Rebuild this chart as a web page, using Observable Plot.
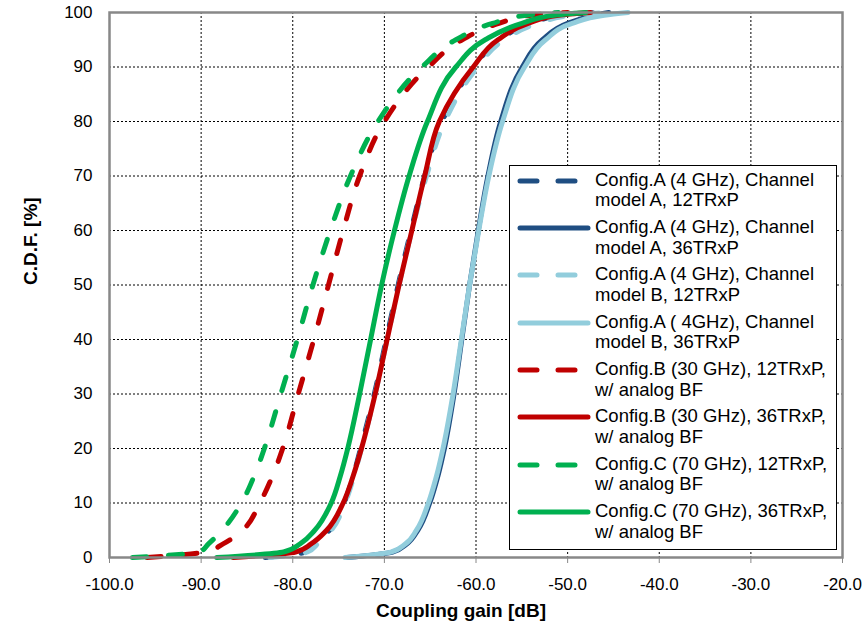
<!DOCTYPE html>
<html>
<head>
<meta charset="utf-8">
<script src="https://cdn.jsdelivr.net/npm/d3@7"></script>
<script src="https://cdn.jsdelivr.net/npm/@observablehq/plot@0.6"></script>
<style>
  html, body { margin: 0; padding: 0; background: #fff; }
  #wrap { position: relative; width: 863px; height: 630px; font-family: "Liberation Sans", Arial, sans-serif; }
  #legend { position: absolute; left: 509px; top: 165px; width: 326px; height: 383px; border: 1px solid #000; background: #fff; }
  .entry { position: absolute; left: 0; width: 326px; height: 42px; }
  .entry svg { position: absolute; left: 0; top: 0; }
  .entry .lab { position: absolute; left: 85px; top: 0; font-size: 18.5px; line-height: 20.7px; color: #000; white-space: nowrap; }
</style>
</head>
<body>
<div id="wrap"></div>
<script>
// CDF levels (%) shared by all series
const levels = [0, 1, 2.5, 5, 10, 15, 20, 30, 40, 50, 60, 70, 80, 90, 95, 98, 99.5, 100];

// Coupling gain [dB] at each CDF level, per series
const aModelA12 = [-83.0, -78.6, -77.5, -76.0, -74.4, -73.4, -72.6, -71.1, -69.8, -68.5, -67.1, -65.6, -63.7, -60.2, -57.4, -54.0, -50.5, -47.0];
const aModelA36 = [-74.1, -69.1, -67.55, -66.35, -65.05, -64.15, -63.45, -62.4, -61.55, -60.7, -59.75, -58.7, -57.3, -54.95, -52.75, -50.0, -47.0, -45.5];
const aModelB12 = [-82.5, -78.4, -77.3, -75.8, -74.3, -73.3, -72.5, -71.0, -69.7, -68.4, -67.0, -65.4, -63.4, -59.8, -56.9, -53.2, -49.5, -46.0];
const aModelB36 = [-74.3, -69.3, -67.7, -66.5, -65.2, -64.3, -63.6, -62.5, -61.6, -60.7, -59.7, -58.6, -57.1, -54.7, -52.4, -49.5, -46.0, -43.4];
const b12 = [-95.9, -89.6, -87.6, -85.5, -83.6, -82.2, -81.1, -79.4, -77.7, -76.1, -74.5, -72.7, -70.0, -65.2, -61.5, -57.5, -54.0, -50.0];
const b36 = [-86.5, -79.7, -78.0, -76.3, -74.5, -73.4, -72.5, -71.0, -69.7, -68.4, -67.0, -65.6, -64.0, -60.3, -57.6, -54.3, -51.0, -47.5];
const c12 = [-97.5, -90.2, -89.2, -87.7, -85.6, -84.2, -83.1, -81.3, -79.5, -77.8, -75.9, -73.7, -70.7, -65.9, -62.2, -58.2, -54.5, -51.0];
const c36 = [-88.3, -81.0, -79.2, -77.6, -75.8, -74.8, -74.0, -72.7, -71.5, -70.3, -68.9, -67.3, -65.3, -62.2, -59.0, -55.0, -51.5, -48.0];

const seriesNames = [
  ["Config.A (4 GHz), Channel", "model A, 12TRxP"],
  ["Config.A (4 GHz), Channel", "model A, 36TRxP"],
  ["Config.A (4 GHz), Channel", "model B, 12TRxP"],
  ["Config.A ( 4GHz), Channel", "model B, 36TRxP"],
  ["Config.B (30 GHz), 12TRxP,", "w/ analog BF"],
  ["Config.B (30 GHz), 36TRxP,", "w/ analog BF"],
  ["Config.C (70 GHz), 12TRxP,", "w/ analog BF"],
  ["Config.C (70 GHz), 36TRxP,", "w/ analog BF"]
];
const seriesValues = [aModelA12, aModelA36, aModelB12, aModelB36, b12, b36, c12, c36];
const seriesColors = ["#1F4E82", "#1F4E82", "#92CDDC", "#92CDDC", "#C00000", "#C00000", "#00B050", "#00B050"];
const seriesDashed = [true, false, true, false, true, false, true, false];

const xTicks = [-100, -90, -80, -70, -60, -50, -40, -30, -20];
const yTicks = [0, 10, 20, 30, 40, 50, 60, 70, 80, 90, 100];
const xGrid = [-90, -80, -70, -60, -50, -40, -30];
const yGrid = [10, 20, 30, 40, 50, 60, 70, 80, 90];

const DASH = "14,22";

const lineMarks = seriesValues.map((vals, i) =>
  Plot.line(levels.map((p, j) => ({x: vals[j], y: p})), {
    x: "x", y: "y",
    stroke: seriesColors[i],
    strokeWidth: 5,
    strokeLinecap: "round",
    strokeLinejoin: "round",
    strokeDasharray: seriesDashed[i] ? DASH : null,
    curve: "monotone-y"
  })
);

const chart = Plot.plot({
  width: 863,
  height: 630,
  marginLeft: 109,
  marginRight: 21,
  marginTop: 12,
  marginBottom: 73,
  style: {fontFamily: "'Liberation Sans', Arial, sans-serif", fontSize: "17px", background: "#fff", color: "#000"},
  x: {domain: [-100, -20]},
  y: {domain: [0, 100]},
  marks: [
    Plot.gridX(xGrid, {stroke: "#000", strokeOpacity: 1, strokeWidth: 1, strokeDasharray: "2,2"}),
    Plot.gridY(yGrid, {stroke: "#000", strokeOpacity: 1, strokeWidth: 1, strokeDasharray: "2,2"}),
    Plot.axisX(xTicks, {tickFormat: d => d.toFixed(1), tickSize: 6, tickPadding: 14, stroke: "#888", fill: "#000", label: null}),
    Plot.axisY(yTicks, {tickSize: 0, tickPadding: 17, fill: "#000", label: null}),
    ...lineMarks,
    Plot.frame({stroke: "#888", strokeWidth: 2.5}),
    Plot.text(["Coupling gain [dB]"], {frameAnchor: "bottom", dy: 59, dx: -15, fontSize: 19, fontWeight: "bold", fill: "#000"}),
    Plot.text(["C.D.F. [%]"], {frameAnchor: "left", dx: -79, rotate: -90, fontSize: 19, fontWeight: "bold", fill: "#000"})
  ]
});

const wrap = document.getElementById("wrap");
wrap.appendChild(chart);

// Legend
const legend = document.createElement("div");
legend.id = "legend";
seriesNames.forEach((lines, i) => {
  const e = document.createElement("div");
  e.className = "entry";
  e.style.top = (3.7 + i * 47.3) + "px";
  const svg = d3.create("svg").attr("width", 84).attr("height", 22);
  svg.append("line")
    .attr("x1", 10).attr("x2", 78).attr("y1", 11).attr("y2", 11)
    .attr("stroke", seriesColors[i]).attr("stroke-width", 5)
    .attr("stroke-linecap", "round")
    .attr("stroke-dasharray", seriesDashed[i] ? "17,21" : null);
  e.appendChild(svg.node());
  const lab = document.createElement("div");
  lab.className = "lab";
  lab.innerHTML = lines[0] + "<br>" + lines[1];
  e.appendChild(lab);
  legend.appendChild(e);
});
wrap.appendChild(legend);
</script>
</body>
</html>
